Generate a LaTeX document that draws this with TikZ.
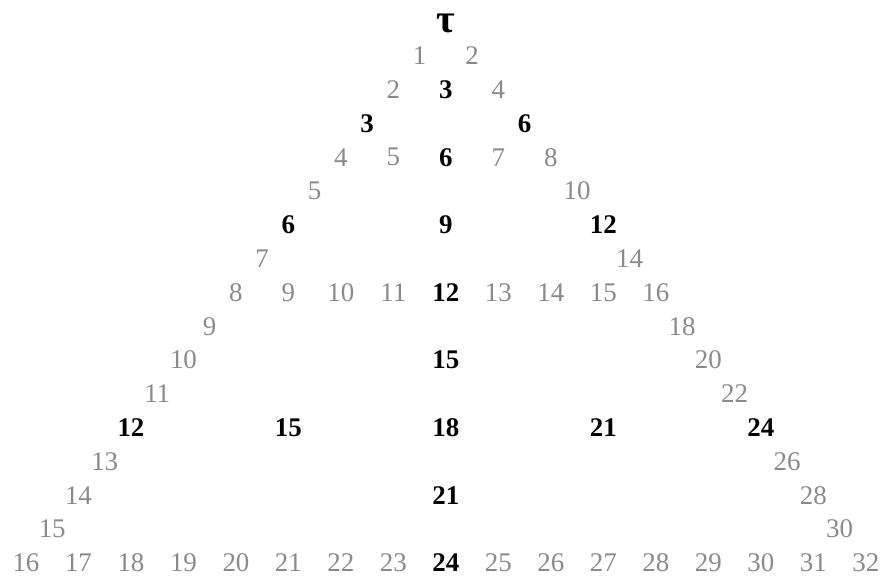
\documentclass[tikz,border=0pt]{standalone}
\usepackage{fontspec}
\setmainfont{Liberation Serif}
\usepackage{tikz}

\definecolor{numgray}{HTML}{8A8A8A}

\begin{document}
\begin{tikzpicture}[
    x=0.5cm, y=0.644cm,
    entry/.style={text=numgray, font=\fontsize{14.6pt}{16pt}\selectfont, inner sep=0pt},
    key/.style={text=black, font=\fontsize{14.6pt}{16pt}\selectfont\bfseries, inner sep=0pt}
]
\useasboundingbox (-16.99, 0.65) rectangle (16.65, -16.39);

% apex
\node[key, scale=1.5] (tau) at (0, -0.05) {τ};

% rows 1--3
\node[entry] (r1c0) at (-1, -1) {1};
\node[entry] (r1c1) at (1, -1) {2};
\node[entry] (r2c0) at (-2, -2) {2};
\node[key] (r2c1) at (0, -2) {3};
\node[entry] (r2c2) at (2, -2) {4};
\node[key] (r3c0) at (-3, -3) {3};
\node[key] (r3c3) at (3, -3) {6};

% row 4 (full)
\node[entry] (r4c0) at (-4, -4) {4};
\node[entry] (r4c1) at (-2, -4) {5};
\node[key] (r4c2) at (0, -4) {6};
\node[entry] (r4c3) at (2, -4) {7};
\node[entry] (r4c4) at (4, -4) {8};

% rows 5--7
\node[entry] (r5c0) at (-5, -5) {5};
\node[entry] (r5c5) at (5, -5) {10};
\node[key] (r6c0) at (-6, -6) {6};
\node[key] (r6c3) at (0, -6) {9};
\node[key] (r6c6) at (6, -6) {12};
\node[entry] (r7c0) at (-7, -7) {7};
\node[entry] (r7c7) at (7, -7) {14};

% row 8 (full)
\node[entry] (r8c0) at (-8, -8) {8};
\node[entry] (r8c1) at (-6, -8) {9};
\node[entry] (r8c2) at (-4, -8) {10};
\node[entry] (r8c3) at (-2, -8) {11};
\node[key] (r8c4) at (0, -8) {12};
\node[entry] (r8c5) at (2, -8) {13};
\node[entry] (r8c6) at (4, -8) {14};
\node[entry] (r8c7) at (6, -8) {15};
\node[entry] (r8c8) at (8, -8) {16};

% rows 9--11
\node[entry] (r9c0) at (-9, -9) {9};
\node[entry] (r9c9) at (9, -9) {18};
\node[entry] (r10c0) at (-10, -10) {10};
\node[key] (r10c5) at (0, -10) {15};
\node[entry] (r10c10) at (10, -10) {20};
\node[entry] (r11c0) at (-11, -11) {11};
\node[entry] (r11c11) at (11, -11) {22};

% row 12
\node[key] (r12c0) at (-12, -12) {12};
\node[key] (r12c3) at (-6, -12) {15};
\node[key] (r12c6) at (0, -12) {18};
\node[key] (r12c9) at (6, -12) {21};
\node[key] (r12c12) at (12, -12) {24};

% rows 13--15
\node[entry] (r13c0) at (-13, -13) {13};
\node[entry] (r13c13) at (13, -13) {26};
\node[entry] (r14c0) at (-14, -14) {14};
\node[key] (r14c7) at (0, -14) {21};
\node[entry] (r14c14) at (14, -14) {28};
\node[entry] (r15c0) at (-15, -15) {15};
\node[entry] (r15c15) at (15, -15) {30};

% row 16 (full)
\node[entry] (r16c0) at (-16, -16) {16};
\node[entry] (r16c1) at (-14, -16) {17};
\node[entry] (r16c2) at (-12, -16) {18};
\node[entry] (r16c3) at (-10, -16) {19};
\node[entry] (r16c4) at (-8, -16) {20};
\node[entry] (r16c5) at (-6, -16) {21};
\node[entry] (r16c6) at (-4, -16) {22};
\node[entry] (r16c7) at (-2, -16) {23};
\node[key] (r16c8) at (0, -16) {24};
\node[entry] (r16c9) at (2, -16) {25};
\node[entry] (r16c10) at (4, -16) {26};
\node[entry] (r16c11) at (6, -16) {27};
\node[entry] (r16c12) at (8, -16) {28};
\node[entry] (r16c13) at (10, -16) {29};
\node[entry] (r16c14) at (12, -16) {30};
\node[entry] (r16c15) at (14, -16) {31};
\node[entry] (r16c16) at (16, -16) {32};

\end{tikzpicture}
\end{document}
